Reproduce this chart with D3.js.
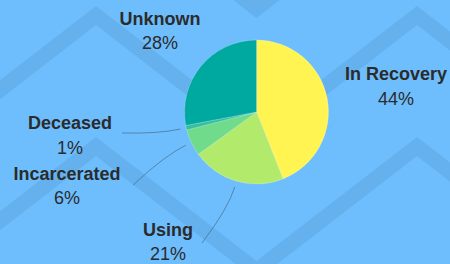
<!DOCTYPE html>
<html>
<head>
<meta charset="utf-8">
<script src="https://cdn.jsdelivr.net/npm/d3@7"></script>
<style>
  html, body { margin: 0; padding: 0; overflow: hidden; }
  text { font-family: "Liberation Sans", Arial, sans-serif; fill: #2b2b2b; }
</style>
</head>
<body>
<div id="chart"></div>
<script>
// data
var categories = ['In Recovery', 'Using', 'Incarcerated', 'Deceased', 'Unknown'];
var values = [44, 21, 6, 1, 28];
var sliceColors = ['#fff451', '#b2ea6c', '#6fdb8b', '#36bf9b', '#00a99f'];

// label layout (center x, name baseline, percent baseline, leader end)
var labelPos = {
    'In Recovery': { x: 396, y: 80, py: 105, end: null },
    'Using': { x: 168, y: 236, py: 260, end: [202, 243] },
    'Incarcerated': { x: 67, y: 180, py: 204, end: [133, 185] },
    'Deceased': { x: 70, y: 129, py: 154, end: [122, 133] },
    'Unknown': { x: 160, y: 25, py: 49, end: null }
};

var width = 450;
var height = 264;
var cx = 256.5, cy = 112, radius = 72;

var svg = d3.select('#chart').append('svg')
    .attr('width', width)
    .attr('height', height);

svg.append('rect')
    .attr('width', width)
    .attr('height', height)
    .attr('fill', '#6ebefe');

// zigzag background bands
var zig = d3.line();
[-131, 0, 131].forEach(off => {
    let pts = [];
    for (let i = -1; i < 4; i++) {
        let x = 96 + i * 160.5;
        let y = (i % 2 == 0 ? 15.5 : 139.5) + off;
        pts.push([x, y]);
    }
    svg.append('path')
        .attr('d', zig(pts))
        .attr('fill', 'none')
        .attr('stroke', '#64b1ee')
        .attr('stroke-width', 15)
        .attr('stroke-linejoin', 'miter');
});

var table = categories.map((c, i) => ({ name: c, value: values[i], color: sliceColors[i] }));

var pie = d3.pie().sort(null).value(d => d.value);
var arcs = pie(table);
var arc = d3.arc().innerRadius(0).outerRadius(radius);

var g = svg.append('g').attr('transform', 'translate(' + cx + ',' + cy + ')');

g.selectAll('path.slice')
    .data(arcs)
    .enter()
    .append('path')
    .attr('class', 'slice')
    .attr('d', arc)
    .attr('fill', d => d.data.color)
    .attr('stroke', 'rgba(255,255,255,0.35)')
    .attr('stroke-width', 0.6);

// leader lines
function polar(a, r) {
    return [cx + r * Math.sin(a), cy - r * Math.cos(a)];
}
arcs.forEach(d => {
    let lp = labelPos[d.data.name];
    if (!lp.end) return;
    let mid = (d.startAngle + d.endAngle) / 2;
    let p0 = polar(mid, radius + 6);
    let c = polar(mid, radius + 28);
    let p = d3.path();
    p.moveTo(p0[0], p0[1]);
    p.quadraticCurveTo(c[0], c[1], lp.end[0], lp.end[1]);
    svg.append('path')
        .attr('d', p.toString())
        .attr('fill', 'none')
        .attr('stroke', 'rgba(60,85,110,0.55)')
        .attr('stroke-width', 1);
});

// labels
arcs.forEach(d => {
    let lp = labelPos[d.data.name];
    svg.append('text')
        .attr('x', lp.x)
        .attr('y', lp.y)
        .attr('text-anchor', 'middle')
        .attr('font-size', 18)
        .attr('font-weight', 'bold')
        .text(d.data.name);
    svg.append('text')
        .attr('x', lp.x)
        .attr('y', lp.py)
        .attr('text-anchor', 'middle')
        .attr('font-size', 18)
        .text(d.data.value + '%');
});
</script>
</body>
</html>
